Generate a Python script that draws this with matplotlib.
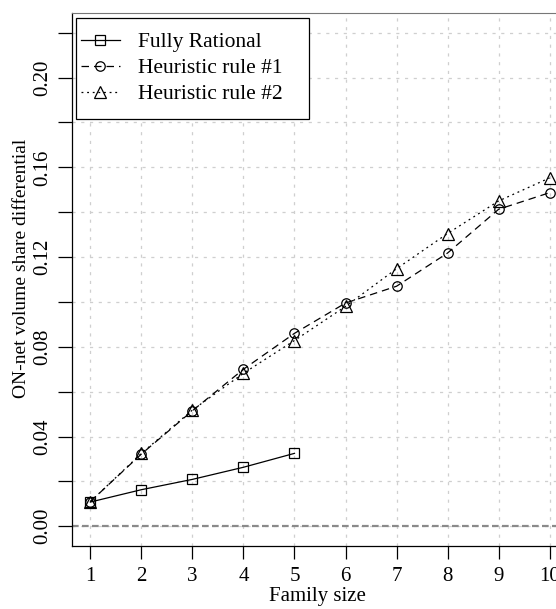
import matplotlib
matplotlib.use("Agg")
import matplotlib.pyplot as plt
from matplotlib.patches import Rectangle
from matplotlib.ticker import FixedLocator, FuncFormatter

# data
family_size = [1, 2, 3, 4, 5, 6, 7, 8, 9, 10]
rational_x = [1, 2, 3, 4, 5]
rational = [0.0108, 0.0163, 0.0209, 0.0263, 0.0325]
heur1 = [0.0110, 0.0322, 0.0515, 0.0700, 0.0860, 0.0995, 0.1070, 0.1218, 0.1413, 0.1487]
heur2 = [0.0110, 0.0325, 0.0518, 0.0682, 0.0828, 0.0980, 0.1148, 0.1305, 0.1450, 0.1553]
y_ticks = [0.00, 0.02, 0.04, 0.06, 0.08, 0.10, 0.12, 0.14, 0.16, 0.18, 0.20, 0.22]
y_labels = {0.00: "0.00", 0.04: "0.04", 0.08: "0.08", 0.12: "0.12", 0.16: "0.16", 0.20: "0.20"}

plt.rcParams["font.family"] = ["Liberation Serif", "DejaVu Serif"]
plt.rcParams["font.size"] = 15

W, H = 556, 609
fig = plt.figure(figsize=(W / 100, H / 100), dpi=100)
# axes runs past the right edge of the figure, as in the cropped reference
ax_w, ax_h = 496, 533
ax = fig.add_axes([72 / W, (H - 546) / H, ax_w / W, ax_h / H])


def px(x, y):
    # figure pixel (from top-left) -> axes fraction
    return (x - 72) / ax_w, (546 - y) / ax_h


ax.set_xlim(0.64, 10.36)
ax.set_ylim(-0.0088, 0.2288)

# grid
for xv in family_size:
    ax.axvline(xv, color="#cfcfcf", lw=0.9, ls=(0, (2.5, 4.5)), zorder=0)
for yv in y_ticks:
    ax.axhline(yv, color="#cfcfcf", lw=0.9, ls=(0, (2.5, 4.5)), zorder=0)
ax.axhline(0, color="#8a8a8a", lw=1.6, ls=(0, (3, 1.5)), zorder=1)

ax.plot(rational_x, rational, "-", color="black", lw=0.9, marker="s", ms=7.4,
        mfc="none", mec="black", mew=0.9, label="Fully Rational")
ax.plot(family_size, heur1, color="black", lw=0.9, ls=(0, (6, 4)), marker="o", ms=6.8,
        mfc="none", mec="black", mew=0.9, label="Heuristic rule #1")
ax.plot(family_size, heur2, color="black", lw=0.9, ls=(0, (1.5, 3)), marker="^", ms=8.5,
        mfc="none", mec="black", mew=0.9, label="Heuristic rule #2")

ax.xaxis.set_major_locator(FixedLocator(family_size))
ax.yaxis.set_major_locator(FixedLocator(y_ticks))
ax.yaxis.set_major_formatter(FuncFormatter(
    lambda v, pos: y_labels.get(round(v, 2), "")))
ax.tick_params(axis="x", length=9, width=0.9, pad=6, labelsize=15)
ax.tick_params(axis="y", length=10, width=0.9, pad=4, labelsize=15)
for lab in ax.get_yticklabels():
    lab.set_rotation(90)
    lab.set_va("center")

ax.spines["right"].set_visible(False)
ax.spines["top"].set_color("#777777")
for s in ("left", "bottom"):
    ax.spines[s].set_linewidth(0.9)

ax.set_xlabel("Family size", fontsize=15)
ax.xaxis.set_label_coords(*px(317, 587), transform=ax.transAxes)
ax.set_ylabel("ON-net volume share differential", fontsize=14)
ax.yaxis.set_label_coords(*px(30, 268), transform=ax.transAxes)

# legend: entries without frame, box drawn separately
leg = ax.legend(loc="upper left", bbox_to_anchor=px(81, 32), borderaxespad=0,
                frameon=False, handlelength=1.8, handletextpad=0.84,
                labelspacing=0.28, borderpad=0, fontsize=15.5)
x0, y0 = px(76, 119)
x1, y1 = px(309, 18)
ax.add_patch(Rectangle((x0, y0), x1 - x0, y1 - y0, transform=ax.transAxes,
                       facecolor="white", edgecolor="black", lw=0.9, zorder=4))
leg.set_zorder(5)

fig.savefig("out.png", dpi=100)
